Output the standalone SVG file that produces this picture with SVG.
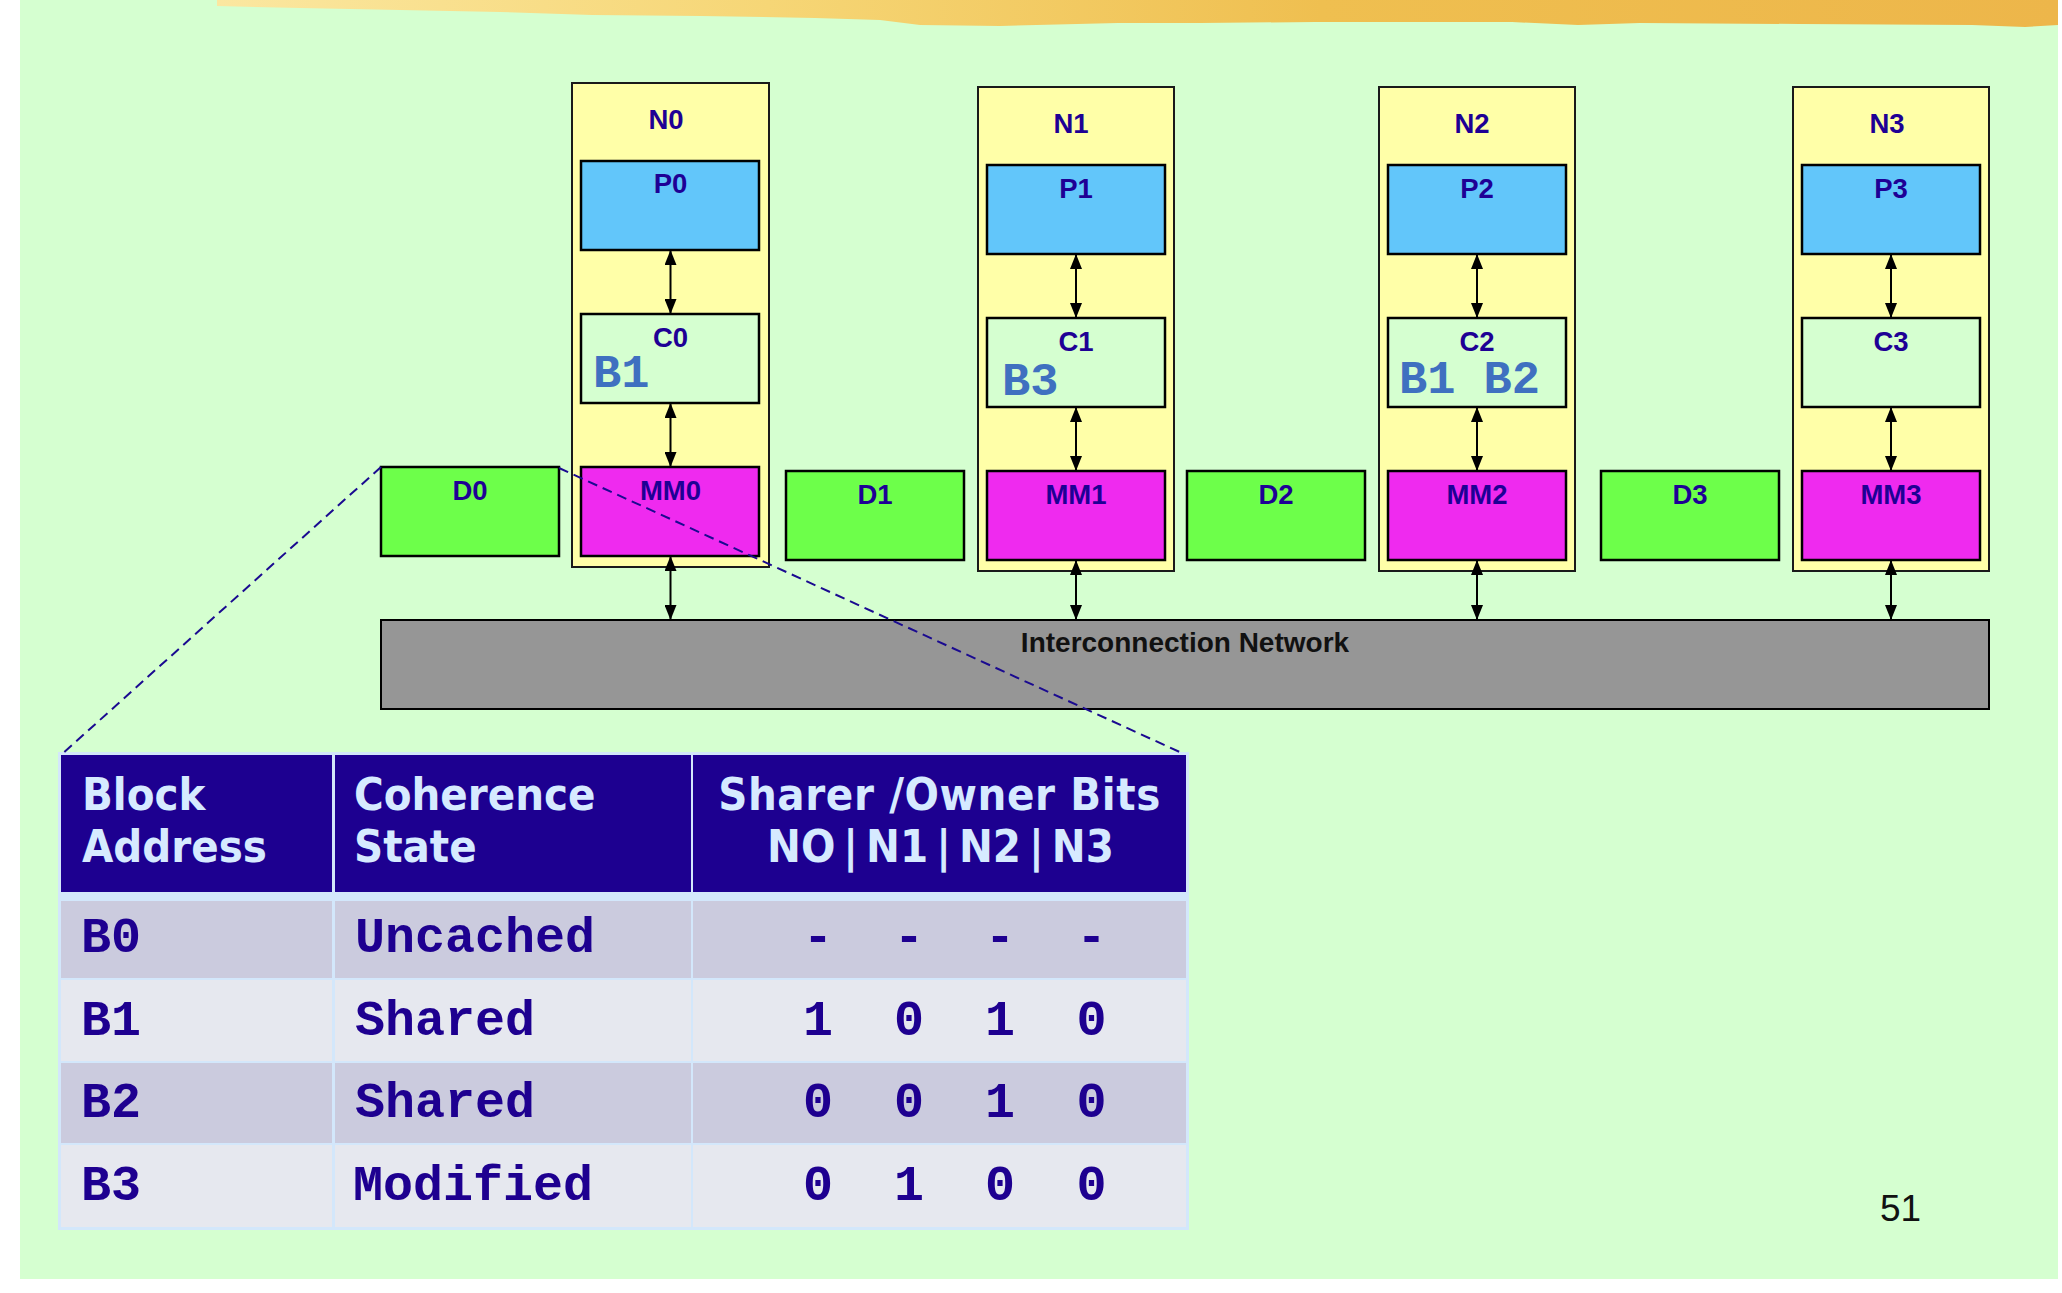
<svg xmlns="http://www.w3.org/2000/svg" width="2062" height="1293" viewBox="0 0 2062 1293">
<defs>
<linearGradient id="brush" x1="0" y1="0" x2="1" y2="0">
<stop offset="0" stop-color="#FBE7A0"/>
<stop offset="0.3" stop-color="#F6D676"/>
<stop offset="0.6" stop-color="#EFBF50"/>
<stop offset="1" stop-color="#EDB64A"/>
</linearGradient>
<marker id="ah" markerUnits="userSpaceOnUse" markerWidth="15" markerHeight="12" refX="15" refY="6" orient="auto-start-reverse" viewBox="0 0 15 12">
<path d="M0,0 L15,6 L0,12 z" fill="#000"/>
</marker>
<style>
.node{fill:#FFFFA8;stroke:#1a1a1a;stroke-width:2}
.p{fill:#62C6FA;stroke:#000;stroke-width:2.5}
.c{fill:#D5FFD0;stroke:#000;stroke-width:2.5}
.mm{fill:#EF2AEF;stroke:#000;stroke-width:2.5}
.d{fill:#6DFF4A;stroke:#000;stroke-width:2.5}
.lbl{font-family:"Liberation Sans",Arial,sans-serif;font-weight:bold;font-size:27.5px;fill:#1E0095;text-anchor:middle}
.blk{font-family:"Liberation Mono","Courier New",monospace;font-weight:bold;font-size:47px;fill:#3F70C0}
.arr{stroke:#000;stroke-width:2;fill:none;marker-start:url(#ah);marker-end:url(#ah)}
.dash{stroke:#1A0A90;stroke-width:2;fill:none;stroke-dasharray:10,6}
.hd{fill:#1D0090}
.r1{fill:#CBCBDE}
.r2{fill:#E6E8EF}
.ht{font-family:"DejaVu Sans",Verdana,sans-serif;font-stretch:condensed;font-weight:bold;font-size:45px;fill:#D6EAFF}
.bt{font-family:"Liberation Mono","Courier New",monospace;font-weight:bold;font-size:50px;fill:#1E0090}
.btm{font-family:"Liberation Mono","Courier New",monospace;font-weight:bold;font-size:50px;fill:#1E0090;text-anchor:middle}
</style>
</defs>
<rect x="0" y="0" width="2062" height="1293" fill="#FFFFFF"/>
<rect x="20" y="0" width="2038" height="1279" fill="#D5FFD0"/>
<path d="M217,0 L2058,0 L2058,25 L2025,27 L1972,25 L1800,24 L1640,23 L1578,25 L1512,22 L1315,22 L1200,23 L1118,23 L1000,26 L920,25 L880,20 L815,18 L700,16 L592,15 L500,12 L400,10 L300,8 L217,6 z" fill="url(#brush)"/>
<g id="network">
<rect x="381" y="620" width="1608" height="89" fill="#969696" stroke="#000" stroke-width="2"/>
<text x="1185" y="652" font-family="Liberation Sans,Arial,sans-serif" font-weight="bold" font-size="28" fill="#111" text-anchor="middle">Interconnection Network</text>
</g>
<g id="N0">
<rect class="node" x="572" y="83" width="197" height="484"/>
<text class="lbl" x="666" y="129">N0</text>
<rect class="p" x="581" y="161" width="178" height="89"/>
<text class="lbl" x="670.5" y="193">P0</text>
<rect class="c" x="581" y="314" width="178" height="89"/>
<text class="lbl" x="670.5" y="346.5">C0</text>
<text class="blk" x="593" y="387">B1</text>
<rect class="mm" x="581" y="467" width="178" height="89"/>
<text class="lbl" x="670.5" y="500">MM0</text>
</g>
<g id="D0">
<rect class="d" x="381" y="467" width="178" height="89"/>
<text class="lbl" x="470" y="500">D0</text>
</g>
<g id="N1">
<rect class="node" x="978" y="87" width="196" height="484"/>
<text class="lbl" x="1071" y="133">N1</text>
<rect class="p" x="987" y="165" width="178" height="89"/>
<text class="lbl" x="1076" y="197.5">P1</text>
<rect class="c" x="987" y="318" width="178" height="89"/>
<text class="lbl" x="1076" y="350.5">C1</text>
<text class="blk" x="1002" y="395">B3</text>
<rect class="mm" x="987" y="471" width="178" height="89"/>
<text class="lbl" x="1076" y="504">MM1</text>
</g>
<g id="D1">
<rect class="d" x="786" y="471" width="178" height="89"/>
<text class="lbl" x="875" y="504">D1</text>
</g>
<g id="N2">
<rect class="node" x="1379" y="87" width="196" height="484"/>
<text class="lbl" x="1472" y="133">N2</text>
<rect class="p" x="1388" y="165" width="178" height="89"/>
<text class="lbl" x="1477" y="197.5">P2</text>
<rect class="c" x="1388" y="318" width="178" height="89"/>
<text class="lbl" x="1477" y="350.5">C2</text>
<text class="blk" x="1399" y="393">B1 B2</text>
<rect class="mm" x="1388" y="471" width="178" height="89"/>
<text class="lbl" x="1477" y="504">MM2</text>
</g>
<g id="D2">
<rect class="d" x="1187" y="471" width="178" height="89"/>
<text class="lbl" x="1276" y="504">D2</text>
</g>
<g id="N3">
<rect class="node" x="1793" y="87" width="196" height="484"/>
<text class="lbl" x="1887" y="133">N3</text>
<rect class="p" x="1802" y="165" width="178" height="89"/>
<text class="lbl" x="1891" y="197.5">P3</text>
<rect class="c" x="1802" y="318" width="178" height="89"/>
<text class="lbl" x="1891" y="350.5">C3</text>
<rect class="mm" x="1802" y="471" width="178" height="89"/>
<text class="lbl" x="1891" y="504">MM3</text>
</g>
<g id="D3">
<rect class="d" x="1601" y="471" width="178" height="89"/>
<text class="lbl" x="1690" y="504">D3</text>
</g>
<g id="table">
<rect x="58" y="752" width="1131" height="478" fill="#D3E7FB"/>
<rect class="hd" x="61" y="755" width="271" height="137"/>
<rect class="hd" x="335" y="755" width="356" height="137"/>
<rect class="hd" x="693" y="755" width="493" height="137"/>
<rect class="r1" x="61" y="901" width="271" height="77"/>
<rect class="r1" x="335" y="901" width="356" height="77"/>
<rect class="r1" x="693" y="901" width="493" height="77"/>
<rect class="r2" x="61" y="980" width="271" height="81"/>
<rect class="r2" x="335" y="980" width="356" height="81"/>
<rect class="r2" x="693" y="980" width="493" height="81"/>
<rect class="r1" x="61" y="1063" width="271" height="80"/>
<rect class="r1" x="335" y="1063" width="356" height="80"/>
<rect class="r1" x="693" y="1063" width="493" height="80"/>
<rect class="r2" x="61" y="1145" width="271" height="82"/>
<rect class="r2" x="335" y="1145" width="356" height="82"/>
<rect class="r2" x="693" y="1145" width="493" height="82"/>
<text class="ht" x="82" y="810">Block</text>
<text class="ht" x="82" y="862">Address</text>
<text class="ht" x="354" y="810">Coherence</text>
<text class="ht" x="354" y="862">State</text>
<text class="ht" x="939.5" y="810" text-anchor="middle" letter-spacing="0.6">Sharer /Owner Bits</text>
<text class="ht" x="767" y="862">NO<tspan dx="8">|</tspan><tspan dx="8">N1</tspan><tspan dx="8">|</tspan><tspan dx="8">N2</tspan><tspan dx="8">|</tspan><tspan dx="8">N3</tspan></text>
<text class="bt" x="81" y="952">B0</text>
<text class="bt" x="355" y="952">Uncached</text>
<text class="btm" x="818" y="952">-</text>
<text class="btm" x="909" y="952">-</text>
<text class="btm" x="1000" y="952">-</text>
<text class="btm" x="1091.5" y="952">-</text>
<text class="bt" x="81" y="1035">B1</text>
<text class="bt" x="355" y="1035">Shared</text>
<text class="btm" x="818" y="1035">1</text>
<text class="btm" x="909" y="1035">0</text>
<text class="btm" x="1000" y="1035">1</text>
<text class="btm" x="1091.5" y="1035">0</text>
<text class="bt" x="81" y="1117">B2</text>
<text class="bt" x="355" y="1117">Shared</text>
<text class="btm" x="818" y="1117">0</text>
<text class="btm" x="909" y="1117">0</text>
<text class="btm" x="1000" y="1117">1</text>
<text class="btm" x="1091.5" y="1117">0</text>
<text class="bt" x="81" y="1200">B3</text>
<text class="bt" x="353" y="1200">Modified</text>
<text class="btm" x="818" y="1200">0</text>
<text class="btm" x="909" y="1200">1</text>
<text class="btm" x="1000" y="1200">0</text>
<text class="btm" x="1091.5" y="1200">0</text>
</g>
<g id="connectors">
<line class="arr" x1="670.5" y1="250" x2="670.5" y2="314"/>
<line class="arr" x1="670.5" y1="403" x2="670.5" y2="467"/>
<line class="arr" x1="670.5" y1="556" x2="670.5" y2="620"/>
<line class="arr" x1="1076" y1="254" x2="1076" y2="318"/>
<line class="arr" x1="1076" y1="407" x2="1076" y2="471"/>
<line class="arr" x1="1076" y1="560" x2="1076" y2="620"/>
<line class="arr" x1="1477" y1="254" x2="1477" y2="318"/>
<line class="arr" x1="1477" y1="407" x2="1477" y2="471"/>
<line class="arr" x1="1477" y1="560" x2="1477" y2="620"/>
<line class="arr" x1="1891" y1="254" x2="1891" y2="318"/>
<line class="arr" x1="1891" y1="407" x2="1891" y2="471"/>
<line class="arr" x1="1891" y1="560" x2="1891" y2="620"/>
<line class="dash" x1="381" y1="467" x2="61" y2="755"/>
<line class="dash" x1="559" y1="468" x2="1184" y2="754"/>
</g>
<text x="1880" y="1221" font-family="Liberation Sans,Arial,sans-serif" font-size="37" fill="#111">51</text>
</svg>
